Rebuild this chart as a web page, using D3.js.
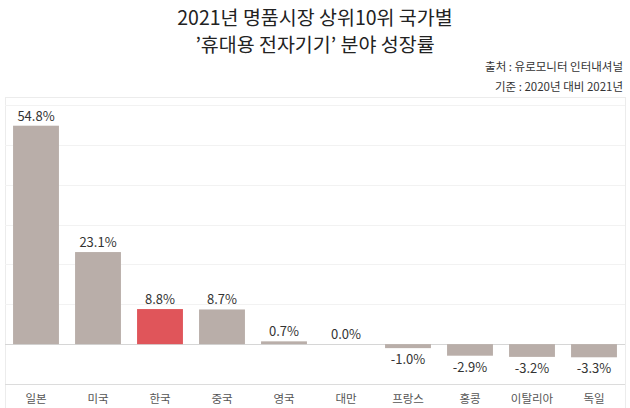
<!DOCTYPE html>
<html><head><meta charset="utf-8">
<script src="https://cdn.jsdelivr.net/npm/d3@7"></script>
<style>body{margin:0;background:#fff;}svg{display:block;font-family:"Noto Sans CJK KR","Noto Sans",sans-serif;}</style>
</head><body><svg id="c" width="630" height="408"></svg>
<script>
const categories = ["일본","미국","한국","중국","영국","대만","프랑스","홍콩","이탈리아","독일"];
const values = [54.8, 23.1, 8.8, 8.7, 0.7, 0.0, -1.0, -2.9, -3.2, -3.3];
const highlight = "한국";
const titleLines = ["2021년 명품시장 상위10위 국가별", "’휴대용 전자기기’ 분야 성장률"];
const noteLines = ["출처 : 유로모니터 인터내셔널", "기준 : 2020년 대비 2021년"];
const gridTicks = [-10, 0, 10, 20, 30, 40, 50, 60];

(function(){
const svg = d3.select("#c");
const pL = 5, pR = 625, pT = 97, pB = 384;
const x = d3.scaleBand().domain(categories).range([pL, pR]).paddingInner(0.26).paddingOuter(0.13);
const y = d3.scaleLinear().domain([-10, 62]).range([pB, pT]);

svg.selectAll("text.title").data(titleLines).join("text")
  .attr("class","title")
  .attr("x", 315).attr("y", (d,i) => 25 + i*27)
  .attr("text-anchor", "middle").attr("font-size", 19.5).attr("fill", "#222")
  .text(d => d);
svg.selectAll("text.note").data(noteLines).join("text")
  .attr("class","note")
  .attr("x", 623).attr("y", (d,i) => 71 + i*20)
  .attr("text-anchor", "end").attr("font-size", 11.5).attr("fill", "#333")
  .text(d => d);

svg.append("rect").attr("x", pL+0.5).attr("y", pT+0.5).attr("width", pR-pL).attr("height", 408-pT+5)
  .attr("fill", "none").attr("stroke", "#ececec");

svg.append("g").selectAll("line").data(gridTicks).join("line")
  .attr("x1", pL).attr("x2", pR)
  .attr("y1", d => Math.round(y(d))+0.5).attr("y2", d => Math.round(y(d))+0.5)
  .attr("stroke", d => d === 0 ? "#d6d6d6" : (d === -10 ? "#dcdcdc" : "#f2f2f2"));

svg.append("g").selectAll("rect").data(categories).join("rect")
  .attr("x", d => x(d)).attr("width", x.bandwidth())
  .attr("y", (d,i) => y(Math.max(0, values[i])))
  .attr("height", (d,i) => Math.abs(y(values[i]) - y(0)))
  .attr("fill", d => d === highlight ? "#e0555a" : "#b9aea9");

svg.append("g").selectAll("text").data(categories).join("text")
  .attr("x", d => x(d) + x.bandwidth()/2)
  .attr("y", (d,i) => values[i] >= 0 ? y(values[i]) - 5 : y(values[i]) + 16)
  .attr("text-anchor", "middle").attr("font-size", 13).attr("fill", "#333")
  .text((d,i) => values[i].toFixed(1) + "%");

const ax = svg.append("g").attr("transform", `translate(0,${pB})`)
  .call(d3.axisBottom(x).tickSize(0).tickPadding(11));
ax.select(".domain").remove();
ax.selectAll("text").attr("font-size", 11.5).attr("fill", "#555")
  .attr("font-family", '"Noto Sans CJK KR",sans-serif');
})();
</script></body></html>
